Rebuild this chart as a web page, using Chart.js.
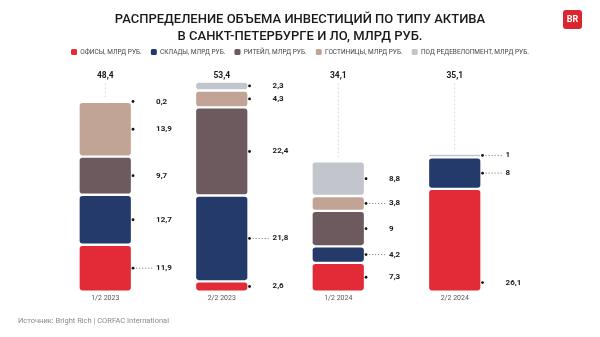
<!DOCTYPE html>
<html>
<head>
<meta charset="utf-8">
<script src="https://cdn.jsdelivr.net/npm/chart.js@4.4.1/dist/chart.umd.min.js"></script>
<style>
  html, body { margin: 0; padding: 0; background: #fff; }
  #wrap { position: relative; width: 600px; height: 337px; }
</style>
</head>
<body>
<div id="wrap"><canvas id="investChart" width="600" height="337"></canvas></div>
<script>
  const periods = ['1/2 2023', '2/2 2023', '1/2 2024', '2/2 2024'];
  const seriesNames = ['ОФИСЫ, МЛРД РУБ.', 'СКЛАДЫ, МЛРД РУБ.', 'РИТЕЙЛ, МЛРД РУБ.', 'ГОСТИНИЦЫ, МЛРД РУБ.', 'ПОД РЕДЕВЕЛОПМЕНТ, МЛРД РУБ.'];
  const offices = [11.9, 2.6, 7.3, 26.1];
  const warehouses = [12.7, 21.8, 4.2, 8];
  const retail = [9.7, 22.4, 9, null];
  const hotels = [13.9, 4.3, 3.8, null];
  const redevelopment = [0.2, 2.3, 8.8, 1];
  const totals = [48.4, 53.4, 34.1, 35.1];

  const COLORS = ['#e32b37', '#243a6a', '#6c5a5f', '#c2a497', '#c3c5cc'];
  const FONT = "'Roboto', 'Liberation Sans', sans-serif";

  // which value labels get a dotted leader ("dataset-index")
  const leaders = ['0-0', '1-1', '1-2', '3-2', '4-3', '1-3'];
  // labels anchored at bottom of the segment instead of middle
  const bottomAnchored = ['0-3'];

  function fmt(v) {
    return String(v).replace('.', ',');
  }

  const valueLabels = {
    id: 'valueLabels',
    afterDatasetsDraw(chart) {
      const ctx = chart.ctx;
      const yScale = chart.scales.y;
      ctx.save();

      chart.data.datasets.forEach((ds, i) => {
        const meta = chart.getDatasetMeta(i);
        meta.data.forEach((bar, j) => {
          const v = ds.data[j];
          if (v == null) return;
          const p = bar.getProps(['x', 'y', 'base', 'width'], true);
          let y = (p.y + p.base) / 2;
          if (bottomAnchored.includes(i + '-' + j)) y = p.base - 9;
          const dotX = p.x + p.width / 2 + 1;
          const textX = p.x + p.width / 2 + 24;

          ctx.fillStyle = '#111';
          ctx.beginPath();
          ctx.arc(dotX, y, 1.4, 0, Math.PI * 2);
          ctx.fill();

          if (leaders.includes(i + '-' + j)) {
            ctx.strokeStyle = '#666';
            ctx.lineWidth = 0.8;
            ctx.setLineDash([1.2, 1.8]);
            ctx.beginPath();
            ctx.moveTo(dotX + 3, y);
            ctx.lineTo(textX - 3, y);
            ctx.stroke();
            ctx.setLineDash([]);
          }

          ctx.font = 'bold 8px ' + FONT;
          ctx.textAlign = 'left';
          ctx.textBaseline = 'middle';
          ctx.fillStyle = '#1a1a1a';
          ctx.fillText(fmt(v), textX, y);
        });
      });

      // totals in one row just above the tallest column, dashed guide down to each stack
      const labelY = yScale.getPixelForValue(Math.max(...totals)) - 6;
      periods.forEach((_, j) => {
        let topY = chart.chartArea.bottom;
        let x = 0;
        chart.data.datasets.forEach((ds, i) => {
          const bar = chart.getDatasetMeta(i).data[j];
          if (ds.data[j] == null) return;
          x = bar.x;
          topY = Math.min(topY, bar.y);
        });
        ctx.font = 'bold 8.5px ' + FONT;
        ctx.textAlign = 'center';
        ctx.textBaseline = 'middle';
        ctx.fillStyle = '#1a1a1a';
        ctx.fillText(fmt(totals[j]), x, labelY);

        if (topY - labelY > 12) {
          ctx.strokeStyle = '#d2d2d2';
          ctx.lineWidth = 0.8;
          ctx.setLineDash([2, 2]);
          ctx.beginPath();
          ctx.moveTo(x, labelY + 8);
          ctx.lineTo(x, topY - 2);
          ctx.stroke();
          ctx.setLineDash([]);
        }
      });

      ctx.restore();
    }
  };

  const decorations = {
    id: 'decorations',
    afterDraw(chart) {
      const ctx = chart.ctx;
      ctx.save();
      // source line
      ctx.font = '7.5px ' + FONT;
      ctx.fillStyle = '#8a8a8a';
      ctx.textAlign = 'left';
      ctx.textBaseline = 'middle';
      ctx.fillText('Источник: Bright Rich | CORFAC International', 18, 321);

      // logo
      ctx.fillStyle = '#d9262f';
      ctx.beginPath();
      ctx.roundRect(563, 10, 19, 19, 3);
      ctx.fill();
      ctx.fillStyle = '#fff';
      ctx.font = 'bold 9px ' + FONT;
      ctx.textAlign = 'center';
      ctx.fillText('BR', 572.5, 20);
      ctx.restore();
    }
  };

  const datasets = [offices, warehouses, retail, hotels, redevelopment].map((data, i) => ({
    label: seriesNames[i],
    data: data,
    backgroundColor: COLORS[i],
    borderColor: '#ffffff',
    borderWidth: 1.2,
    borderRadius: { topLeft: 4, topRight: 4, bottomLeft: 4, bottomRight: 4 },
    borderSkipped: false,
    categoryPercentage: 1,
    barPercentage: 0.46
  }));

  // blank side axes reserve room so the legend can still use the full width
  const spacer = (w) => ({
    display: true,
    min: 0,
    max: 1,
    grid: { display: false },
    border: { display: false },
    ticks: { display: false },
    afterFit(scale) { scale.width = w; }
  });

  new Chart(document.getElementById('investChart'), {
    type: 'bar',
    data: { labels: periods, datasets: datasets },
    options: {
      responsive: false,
      animation: false,
      layout: { padding: { left: 10, right: 10, top: 0, bottom: 33 } },
      scales: {
        x: {
          stacked: true,
          grid: { display: false, drawTicks: false },
          border: { display: false },
          ticks: { color: '#555', font: { family: FONT, size: 7 }, padding: 2 }
        },
        y: {
          stacked: true,
          display: false,
          min: 0,
          max: 57.5
        },
        padLeft: Object.assign(spacer(37), { position: 'left' }),
        padRight: Object.assign(spacer(77), { position: 'right' })
      },
      plugins: {
        title: {
          display: true,
          text: ['РАСПРЕДЕЛЕНИЕ ОБЪЕМА ИНВЕСТИЦИЙ ПО ТИПУ АКТИВА', 'В САНКТ-ПЕТЕРБУРГЕ И ЛО, МЛРД РУБ.'],
          color: '#1a1a1a',
          font: { family: FONT, size: 13, weight: '500', lineHeight: 1.3 },
          padding: { top: 11.5, bottom: -5.5 }
        },
        legend: {
          position: 'top',
          labels: {
            color: '#444',
            font: { family: FONT, size: 6.5 },
            usePointStyle: true,
            pointStyle: 'rectRounded',
            boxWidth: 6,
            boxHeight: 6,
            padding: 9
          }
        },
        tooltip: { enabled: false }
      }
    },
    plugins: [valueLabels, decorations]
  });
</script>
</body>
</html>
